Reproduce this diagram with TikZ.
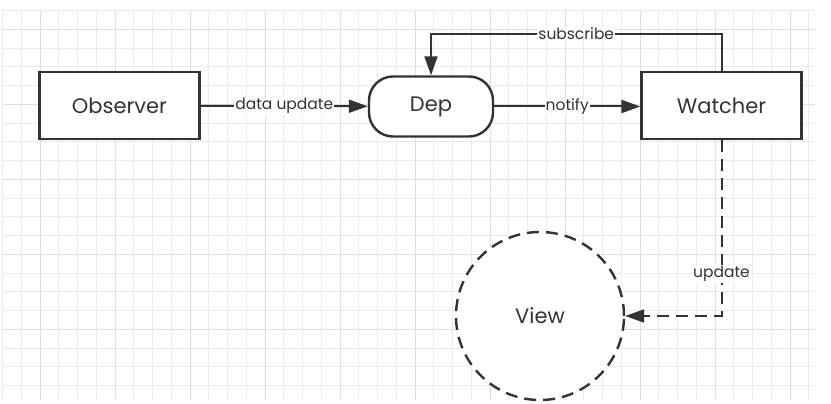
\documentclass[tikz,border=0pt]{standalone}
\usepackage{fontspec}
\setmainfont{Poppins}
\usetikzlibrary{positioning, arrows.meta}
\definecolor{ink}{HTML}{333333}
\definecolor{gridminor}{HTML}{EBEBEB}
\definecolor{gridmajor}{HTML}{DEDEDE}

\begin{document}
\begin{tikzpicture}[x=1pt, y=-1pt, ->, >={Triangle[length=19pt, width=13pt]}, line width=2pt, draw=ink,
   box/.style={rectangle, draw=ink, line width=2.4pt, fill=white, minimum width=160pt, minimum height=67pt, text=ink, font=\fontsize{21}{25}\selectfont},
   pill/.style={rectangle, rounded corners=24pt, draw=ink, line width=2.4pt, fill=white, minimum width=124pt, minimum height=60pt, text=ink, font=\fontsize{21}{25}\selectfont},
   ring/.style={circle, draw=ink, line width=2.4pt, dash pattern=on 12pt off 7pt, fill=white, minimum size=168pt, text=ink, font=\fontsize{21}{25}\selectfont},
   lbl/.style={fill=white, inner sep=1pt, text=ink, font=\fontsize{15.5}{18}\selectfont},
   dashy/.style={dash pattern=on 12pt off 7pt}]
  \useasboundingbox (0,0) rectangle (831,404);
  % grid
  \foreach \i in {0,...,43} \draw[-, line width=0.8pt, gridminor] (2.5+18.75*\i,10.5) -- (2.5+18.75*\i,400);
  \foreach \j in {0,...,20} \draw[-, line width=0.8pt, gridminor] (2.5,10.5+18.75*\j) -- (815,10.5+18.75*\j);
  \foreach \i in {0,...,10} \draw[-, line width=1pt, gridmajor] (40+75*\i,10.5) -- (40+75*\i,400);
  \foreach \j in {0,...,4} \draw[-, line width=1pt, gridmajor] (2.5,29.25+75*\j) -- (815,29.25+75*\j);

  \node[box]  (obs)  at (119.5,105.5) {Observer};
  \node[pill] (dep)  at (431,106.5)   {Dep};
  \node[box]  (wat)  at (721.5,105.5) {Watcher};
  \node[ring] (view) at (540,316)     {View};

  \draw (obs) -- node[lbl] {data update} (dep);
  \draw (dep.east |- 0,106.5) -- node[lbl] {notify} (wat.west |- 0,106.5);
  \draw (wat.north) -- ++(0,-37) -| node[lbl, pos=0.25] {subscribe} (dep.north);
  \draw[dashy] (wat.south) |- node[lbl, pos=0.38] {update} (view.east);
\end{tikzpicture}
\end{document}
